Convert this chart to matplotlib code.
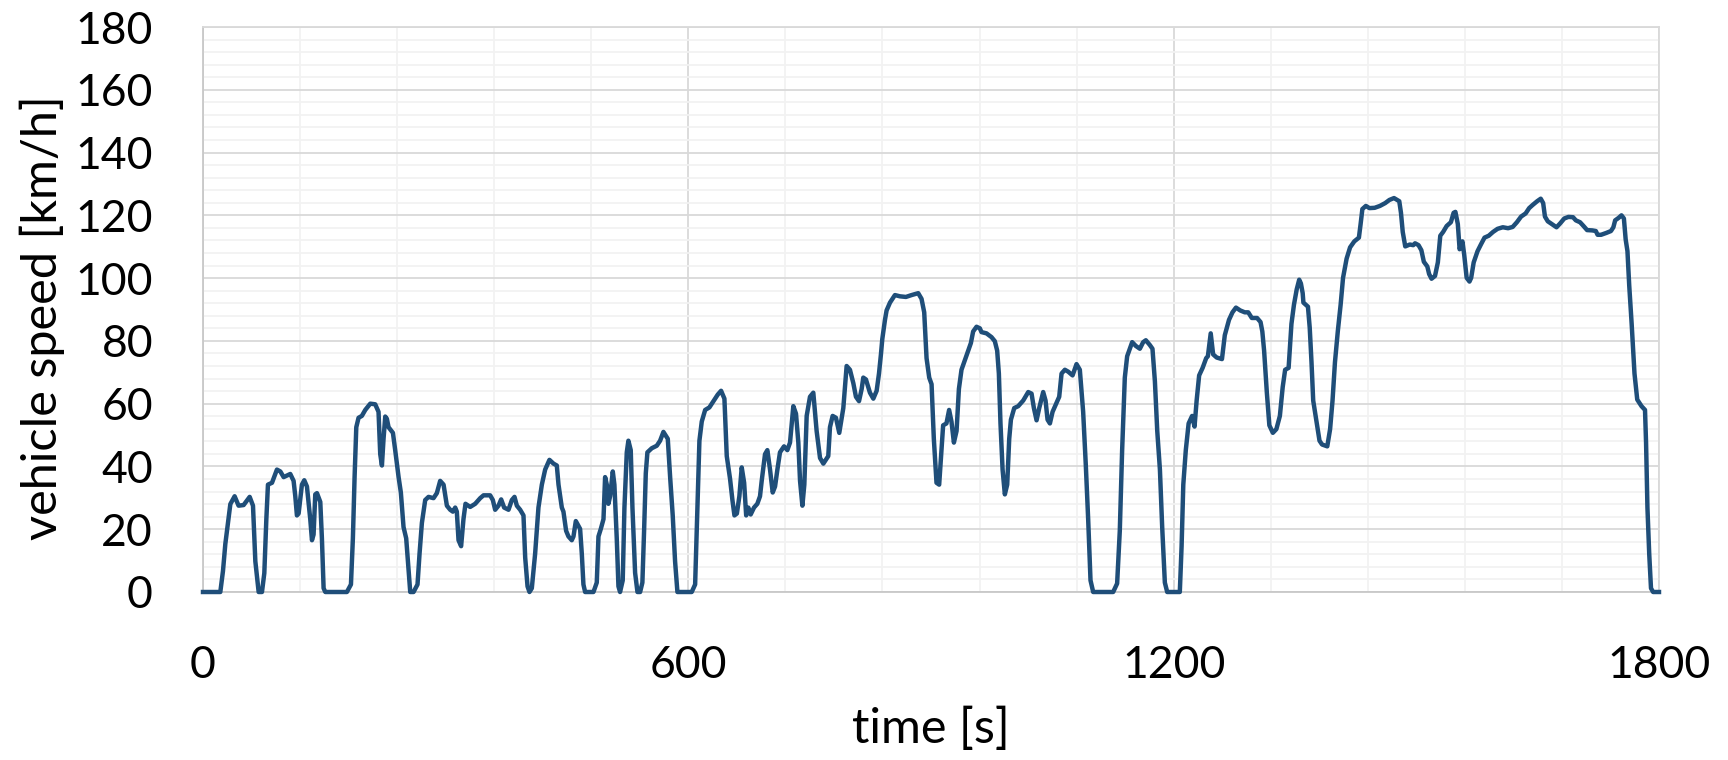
import matplotlib
matplotlib.use("Agg")
import matplotlib.pyplot as plt
from matplotlib.ticker import MultipleLocator

# ---- data (WLTC-like speed trace) ----
time_s = [
    0, 21.4, 24.7, 27.6, 31.7, 33.8, 39.1, 44, 50.2, 57.7,
    61.8, 64.7, 68.8, 72.9, 75.8, 78.3, 80.3, 85.3, 91.4, 95.6,
    99.7, 107.9, 112, 114.1, 116.1, 118.2, 122.3, 125.2, 128.5, 132.6,
    134.7, 136.7, 138.8, 140.9, 145, 147, 149.1, 151.2, 173.8, 177.9,
    182.9, 185.3, 187.4, 189.5, 192.3, 196.4, 200.6, 206.8, 212.9, 217,
    219.1, 221.2, 223.2, 225.3, 227.3, 229.4, 234.8, 237.6, 241.8, 244.6,
    247.9, 251.2, 254.1, 256.2, 260.3, 265.2, 267.7, 270.6, 274.7, 278.8,
    285, 289.1, 293.2, 297.4, 301.5, 305.6, 308.9, 311.8, 313.8, 315.9,
    319.1, 322, 324.5, 330.3, 336.5, 342.7, 346.8, 355, 358.3, 361.2,
    365.3, 368.6, 372.3, 377.7, 381.8, 385.1, 388, 392.1, 396.2, 398.3,
    401.2, 403.6, 406.5, 410.6, 414.7, 418.9, 423, 428.3, 433.3, 437.4,
    439.5, 443.6, 445.6, 448.9, 451.8, 455.9, 458, 460.9, 466.2, 468.3,
    470.3, 472.4, 482.7, 486.8, 488.9, 491.8, 495.1, 497.1, 499.2, 501.2,
    503.3, 506.6, 508.6, 511.5, 513.6, 515.6, 518.9, 521, 523.9, 525.9,
    528.8, 530.9, 534.2, 537.1, 540.4, 543.2, 545.3, 547.4, 549.4, 554.8,
    561, 565.1, 569.2, 574.6, 577.5, 580.7, 583.6, 586.5, 604.2, 608.4,
    611.2, 613.7, 616.6, 620.8, 626, 631, 636.4, 640.5, 644.6, 647.5,
    651.6, 654.5, 657, 660, 663.1, 666, 669, 671.5, 674.2, 677.1,
    681.2, 685.3, 688.6, 690.7, 694.8, 697.7, 701, 704.3, 707.2, 710.1,
    713.3, 718.3, 722.4, 725.7, 729.8, 733.1, 736, 738.1, 741, 743.4,
    746.3, 750.4, 754.5, 758.6, 762.8, 766.9, 773, 775.1, 778.4, 782.5,
    786.6, 791.6, 795.7, 799.8, 804, 807.2, 811, 814.3, 816.3, 819.6,
    824.5, 828.7, 832.8, 835.7, 838.1, 839.8, 843.1, 845.1, 849.3, 855.4,
    861.6, 869, 876, 884.2, 888.3, 891.6, 894.5, 897.8, 900.7, 903.5,
    906.8, 910.1, 913, 915, 919.1, 922.4, 925.3, 928.3, 931.6, 934.5,
    937.7, 941.8, 946, 949.3, 952.1, 956.3, 960.4, 962.4, 968.6, 974.8,
    978.9, 981.8, 983.9, 985.9, 988.5, 991.3, 994.2, 996.7, 998.8, 1002.9,
    1007.8, 1014, 1020.2, 1024.3, 1027.2, 1030.5, 1033.8, 1038.7, 1041.6, 1044.1,
    1047, 1050.3, 1054.4, 1058.5, 1061.4, 1065.5, 1069.6, 1075, 1079.9, 1084,
    1088.1, 1091.4, 1094.3, 1097.2, 1100.5, 1125.2, 1130.1, 1133.4, 1136.3, 1139.6,
    1142.5, 1145.8, 1148.7, 1153.2, 1158.2, 1162.3, 1165.6, 1170.5, 1173.8, 1176.8,
    1179.7, 1183, 1185.8, 1189.1, 1192, 1203.5, 1207.6, 1209.8, 1211.9, 1215,
    1218.5, 1222.8, 1225.8, 1228.4, 1231.5, 1235.8, 1240.2, 1242.3, 1245.8, 1248.8,
    1253.2, 1259.7, 1263.2, 1268.4, 1272.7, 1277, 1282.3, 1287.9, 1292.2, 1296.6,
    1303.1, 1307.4, 1309.6, 1311.8, 1315.2, 1318.3, 1322.6, 1327, 1331.3, 1334.8,
    1337.8, 1342.1, 1345.6, 1348.7, 1352.1, 1355.2, 1357.3, 1359.5, 1360.4, 1366,
    1368.2, 1370.4, 1372.5, 1376.9, 1380.3, 1383.4, 1389.9, 1393.4, 1396.4, 1399.4,
    1402.9, 1406.4, 1409.4, 1413.8, 1418.1, 1423.3, 1429, 1431.1, 1433.3, 1437.6,
    1442, 1448.5, 1455, 1461.5, 1466.7, 1472.4, 1478.9, 1481, 1483.2, 1486.3,
    1491.9, 1496.2, 1498.4, 1502.7, 1506.2, 1509.3, 1513.6, 1515.8, 1518.8, 1523.1,
    1526.6, 1529.6, 1533.1, 1537.5, 1542.7, 1546.1, 1548.3, 1551.3, 1553.5, 1557,
    1559.2, 1562.2, 1565.7, 1567.8, 1570.9, 1575.7, 1580, 1584.3, 1589.5, 1594.8,
    1600.4, 1606.9, 1613.4, 1619.1, 1624.3, 1629.5, 1635.1, 1639.5, 1643.8, 1649.4,
    1653.8, 1656.8, 1659, 1662.5, 1667.7, 1673.3, 1677.7, 1682.9, 1688.1, 1693.7,
    1697.2, 1702.4, 1706.7, 1711.1, 1717.6, 1721.9, 1724.1, 1728.4, 1734.9, 1740.6,
    1743.6, 1745.8, 1750.1, 1753.6, 1756.6, 1758.8, 1761, 1763.2, 1766.2, 1769.7,
    1773.1, 1778.4, 1782.7, 1784, 1785.7, 1787.9, 1790.1, 1792.7, 1800,
]

speed_kmh = [
    0, 0, 6.7, 15.3, 23.8, 28, 30.5, 27.5, 27.7, 30.3,
    27.5, 9.8, 0, 0, 6, 23.2, 34.2, 34.8, 39, 38.4,
    36.6, 37.6, 35.4, 30.5, 24.4, 25, 34.2, 35.6, 33.6, 23.2,
    16.5, 18.3, 31.1, 31.5, 28.7, 17.1, 1.2, 0, 0, 0,
    2.4, 17.1, 36.6, 52.5, 55.5, 56.1, 58, 60, 59.8, 57.4,
    43.9, 40.3, 48.8, 55.9, 55.2, 52.5, 50.7, 45.2, 36.6, 31.7,
    20.7, 17.1, 7.3, 0, 0, 2.4, 12.2, 22, 29.3, 30.3,
    29.9, 31.5, 35.4, 34.2, 27.5, 26.2, 25.6, 26.9, 25.6, 16.5,
    14.6, 23.2, 28.1, 27.1, 28.1, 29.9, 30.8, 30.8, 29.3, 26.2,
    27.5, 29.5, 26.9, 26.2, 29.3, 30.3, 27.5, 26.2, 24.4, 11,
    1.8, 0, 1.2, 12.2, 26.9, 34.2, 39, 42.1, 40.9, 40.3,
    34.2, 26.9, 25.6, 19.5, 17.7, 16.5, 17.7, 22.6, 20.1, 12.2,
    2.4, 0, 0, 3, 17.7, 20.1, 23.2, 36.6, 34.2, 28.1,
    30.5, 38.4, 34.2, 17.1, 1.8, 0, 3.7, 26.9, 44.5, 48.2,
    45.2, 26.9, 6.1, 0, 0, 3, 19.5, 37.8, 44.5, 45.8,
    46.6, 48.2, 51, 48.8, 36.6, 24.4, 9.8, 0, 0, 2.4,
    26.9, 48.2, 54.3, 58, 58.8, 60.8, 62.9, 64.1, 61.6, 43.3,
    36, 29.3, 24.4, 25, 30.5, 39.7, 34.8, 24.4, 26.9, 24.7,
    26.9, 28.1, 30.5, 35.4, 43.9, 45.2, 39, 31.7, 33.6, 39,
    44.5, 46.4, 45.2, 47.6, 59.2, 56.8, 47.6, 35.4, 27.5, 34.2,
    56.1, 62.2, 63.5, 51.3, 42.7, 40.9, 43.3, 52.5, 56.1, 55.5,
    50.7, 58.6, 72, 70.8, 66.5, 62.2, 60.8, 64.7, 68.3, 67.7,
    63.5, 61.6, 64.1, 69.6, 75.7, 80.6, 86.7, 89.7, 92.2, 94.6,
    94.2, 94, 94.6, 95.2, 93.4, 89.1, 74.5, 68.3, 66.2, 48.8,
    34.8, 34.2, 45.2, 53.1, 53.7, 58, 54.3, 47.6, 51.3, 64.7,
    70.8, 73.8, 76.9, 79.3, 83, 84.5, 84, 82.8, 82.4, 81.2,
    79.9, 76.9, 69.6, 53.7, 39, 31.1, 34.2, 48.8, 54.9, 58.6,
    59.2, 61, 63.7, 63.2, 58.6, 54.7, 58.6, 63.7, 61, 54.9,
    53.7, 57.4, 59.8, 62.2, 69.6, 70.8, 70.2, 69, 72.6, 70.8,
    57.4, 40.3, 23.2, 3.7, 0, 0, 2.7, 19.5, 45.2, 68.3,
    75.1, 77.5, 79.6, 78.4, 77.5, 79.6, 80.2, 78.7, 77.5, 67.1,
    51.3, 39, 20.7, 3, 0, 0, 0, 14.6, 34.2, 45.2,
    53.7, 56.1, 52.7, 61, 69, 71.4, 74.5, 75.1, 82.4, 75.7,
    74.7, 74.2, 81.8, 86.7, 89.1, 90.6, 89.7, 89.1, 89.1, 87.3,
    87.3, 86, 83, 76.9, 63.5, 53.1, 50.7, 51.9, 56.1, 65.3,
    70.8, 71.4, 85.4, 91.5, 96.4, 99.5, 98.3, 95.2, 92.2, 90.9,
    84.2, 73.2, 61, 53.7, 48.2, 47, 46.4, 51.9, 61, 73.2,
    83, 91.5, 100.1, 106.2, 109.8, 111.7, 112.9, 117.2, 122, 123,
    122.3, 122.4, 123, 123.9, 124.9, 125.5, 124.5, 120.8, 114.7, 110.1,
    110.7, 110.5, 111.1, 110.5, 108.9, 105.2, 103.7, 101.3, 99.8, 100.7,
    105, 113.5, 114.7, 116.6, 117.8, 120.8, 121.1, 117.2, 109.2, 111.7,
    107.4, 100.1, 98.9, 100.1, 105, 108.6, 110.8, 112.9, 113.5, 114.7,
    115.7, 116.2, 115.9, 116.3, 117.8, 119.6, 120.6, 122.3, 123.3, 124.5,
    125.3, 123.9, 119.6, 118.1, 117.2, 116.2, 117.4, 119, 119.5, 119.4,
    118.4, 117.8, 116.6, 115.3, 115.2, 115, 113.8, 113.8, 114.4, 115,
    116.2, 118.4, 119.2, 120, 119, 112.3, 108.6, 97.6, 85.4, 69.6,
    61.3, 59.2, 58, 47.6, 26.9, 12.2, 1.2, 0, 0,
]

x_ticks = [0, 600, 1200, 1800]
y_ticks = [0, 20, 40, 60, 80, 100, 120, 140, 160, 180]
x_label = "time [s]"
y_label = "vehicle speed [km/h]"

assert len(time_s) == len(speed_kmh)

plt.rcParams["font.family"] = ["Lato", "DejaVu Sans"]

W, H = 1728, 760
fig = plt.figure(figsize=(W / 100, H / 100), dpi=100)
left, right, top, bottom = 203, 1659, 27, 592
ax = fig.add_axes([left / W, 1 - bottom / H, (right - left) / W, (bottom - top) / H])

ax.plot(time_s, speed_kmh, color="#1F4E79", linewidth=3.2, clip_on=False, zorder=3,
        solid_joinstyle="round")

ax.set_xlim(0, 1800)
ax.set_ylim(0, 180)
ax.set_xticks(x_ticks)
ax.set_yticks(y_ticks)
ax.xaxis.set_minor_locator(MultipleLocator(120))
ax.yaxis.set_minor_locator(MultipleLocator(4))

ax.grid(which="major", color="#d9d9d9", linewidth=1.3, zorder=1)
ax.grid(which="minor", color="#f2f2f2", linewidth=1.3, zorder=0)
ax.set_axisbelow(True)

for s in ax.spines.values():
    s.set_color("#d9d9d9")
    s.set_linewidth(1.3)
ax.spines["left"].set_color("#c8c8c8")
ax.spines["bottom"].set_color("#c8c8c8")

ax.tick_params(which="both", length=0)
ax.tick_params(axis="y", labelsize=32, pad=36)
ax.tick_params(axis="x", labelsize=32, pad=38)

ax.set_xlabel(x_label, fontsize=35)
ax.set_ylabel(y_label, fontsize=35)
ax.xaxis.set_label_coords(0.5, (bottom - 729) / (bottom - top))
ax.xaxis.label.set_verticalalignment("center")
ax.yaxis.set_label_coords((42 - left) / (right - left), (bottom - 318) / (bottom - top))
ax.yaxis.label.set_verticalalignment("center")

fig.savefig("out.png", dpi=100, facecolor="white")
